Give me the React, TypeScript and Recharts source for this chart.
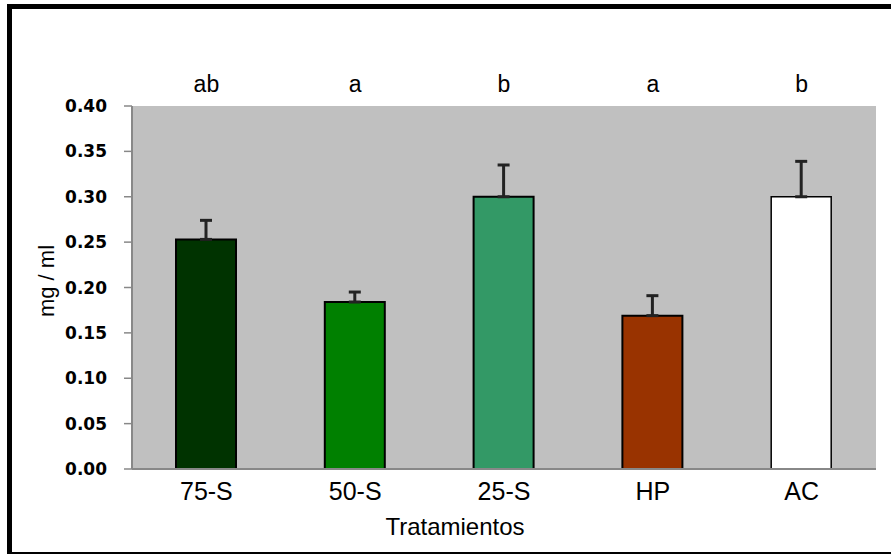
import { Bar, BarChart, CartesianGrid, Cell, ErrorBar, XAxis, YAxis } from "recharts";

const categories = ["75-S", "50-S", "25-S", "HP", "AC"];
const means = [0.253, 0.184, 0.3, 0.169, 0.3];
const errors = [0.021, 0.011, 0.035, 0.022, 0.039];
const letters = ["ab", "a", "b", "a", "b"];
const yTicks = [0, 0.05, 0.1, 0.15, 0.2, 0.25, 0.3, 0.35, 0.4];

const FILLS = ["#003300", "#008000", "#339966", "#993300", "#ffffff"];
const SANS = "'Liberation Sans', Arial, sans-serif";

// error bars only go upward, so the lower half is zero
const rows = categories.map((name, i) => ({
  name,
  mean: means[i],
  err: [0, errors[i]],
  letter: letters[i],
}));

function YTitle({ viewBox }: any) {
  const cx = viewBox.x + 46;
  const cy = viewBox.y + 175;
  return (
    <text
      x={cx}
      y={cy}
      transform={`rotate(-90 ${cx} ${cy})`}
      textAnchor="middle"
      dominantBaseline="central"
      fontFamily={SANS}
      fontSize={22}
      fill="#000"
    >
      mg / ml
    </text>
  );
}

function XTitle({ viewBox }: any) {
  return (
    <text x={viewBox.x + 323} y={viewBox.y + 66} textAnchor="middle" fontFamily={SANS} fontSize={24} fill="#000">
      Tratamientos
    </text>
  );
}

export default function App() {
  return (
    <div style={{ position: "absolute", left: 0, top: 0, width: 891, height: 554, background: "#fff" }}>
      <div
        style={{
          position: "absolute",
          left: 7,
          top: 4,
          right: 0,
          bottom: 0,
          borderTop: "5px solid #000",
          borderLeft: "5px solid #000",
          borderBottom: "2px solid #000",
        }}
      />
      <div style={{ position: "absolute", left: 0, top: 0 }}>
        <BarChart width={891} height={554} data={rows} margin={{ top: 76, right: 15, bottom: 55, left: 0 }}>
          <CartesianGrid fill="#c0c0c0" stroke="none" horizontal={false} vertical={false} />
          <XAxis
            dataKey="name"
            axisLine={{ stroke: "#888", strokeWidth: 2 }}
            tickLine={false}
            tickMargin={7}
            height={30}
            tick={{ fontSize: 25, fill: "#000", fontFamily: SANS }}
            label={<XTitle />}
          />
          <XAxis
            xAxisId="top"
            orientation="top"
            dataKey="name"
            axisLine={false}
            tickLine={false}
            tickMargin={8}
            height={30}
            tickFormatter={(v: string) => letters[categories.indexOf(v)]}
            tick={{ fontSize: 23, fill: "#000", fontFamily: SANS }}
          />
          <YAxis
            width={132}
            domain={[0, 0.4]}
            ticks={yTicks}
            interval={0}
            tickFormatter={(v: number) => v.toFixed(2)}
            axisLine={{ stroke: "#888", strokeWidth: 2 }}
            tickLine={{ stroke: "#888", strokeWidth: 1.5 }}
            tickSize={8}
            tickMargin={17}
            tick={{ fontSize: 17, fontWeight: "bold", fill: "#000", fontFamily: "'DejaVu Sans', sans-serif" }}
            label={<YTitle />}
          />
          <Bar dataKey="mean" barSize={60} stroke="#000" strokeWidth={2} isAnimationActive={false}>
            {rows.map((r, i) => (
              <Cell key={r.name} fill={FILLS[i]} strokeWidth={i === 4 ? 1.5 : 2} />
            ))}
            <ErrorBar dataKey="err" direction="y" width={6} stroke="#222" strokeWidth={3} isAnimationActive={false} />
          </Bar>
        </BarChart>
      </div>
    </div>
  );
}
